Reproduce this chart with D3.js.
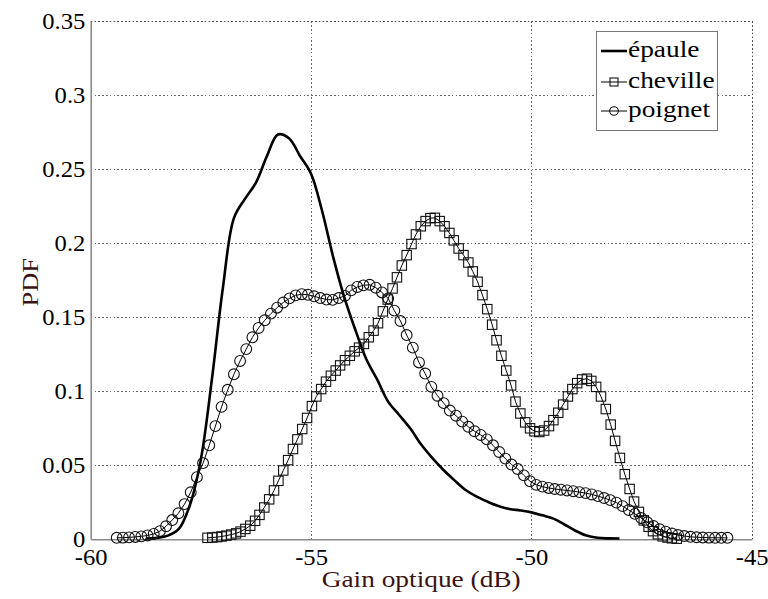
<!DOCTYPE html>
<html><head><meta charset="utf-8">
<script src="https://cdn.jsdelivr.net/npm/d3@7/dist/d3.min.js"></script>
<style>
body{margin:0;background:#fff;}
svg{display:block;}
text{font-family:"Liberation Serif","Times New Roman",serif;}
</style></head>
<body><svg id="chart" width="768" height="599"></svg>
<script>
// ---------- data ----------
const xTicks = [-60, -55, -50, -45];
const xTickLabels = ["-60", "-55", "-50", "-45"];
const yTicks = [0, 0.05, 0.1, 0.15, 0.2, 0.25, 0.3, 0.35];
const yTickLabels = ["0", "0.05", "0.1", "0.15", "0.2", "0.25", "0.3", "0.35"];
const seriesNames = ["épaule", "cheville", "poignet"];
const xLabel = "Gain optique (dB)";
const yLabel = "PDF";

const epauleX = [-58.75,-58.5,-58.25,-58,-57.75,-57.5,-57.25,-57,-56.75,-56.5,-56.25,-56,-55.75,-55.5,-55.25,-55,-54.75,-54.5,-54.25,-54,-53.75,-53.5,-53.25,-53,-52.75,-52.5,-52.25,-52,-51.75,-51.5,-51.25,-51,-50.75,-50.5,-50.25,-50,-49.75,-49.5,-49.25,-49,-48.75,-48.5,-48.25,-48];
const epauleY = [0.0005,0.001,0.0025,0.007,0.023,0.054,0.108,0.17,0.217,0.23,0.241,0.259,0.2735,0.271,0.259,0.247,0.222,0.191,0.164,0.142,0.122,0.108,0.093,0.084,0.075,0.064,0.055,0.047,0.040,0.0335,0.029,0.0255,0.0225,0.0205,0.0195,0.0182,0.0162,0.014,0.010,0.0058,0.0025,0.001,0.0006,0.0005];

const chevilleX = [-57.35,-57.24,-57.13,-57.03,-56.92,-56.81,-56.70,-56.60,-56.49,-56.38,-56.27,-56.17,-56.06,-55.95,-55.84,-55.74,-55.63,-55.52,-55.41,-55.31,-55.20,-55.09,-54.98,-54.88,-54.77,-54.66,-54.55,-54.44,-54.34,-54.23,-54.12,-54.01,-53.91,-53.80,-53.69,-53.58,-53.48,-53.37,-53.26,-53.15,-53.05,-52.94,-52.83,-52.72,-52.62,-52.51,-52.40,-52.29,-52.19,-52.08,-51.97,-51.86,-51.76,-51.65,-51.54,-51.43,-51.33,-51.22,-51.11,-51.00,-50.89,-50.79,-50.68,-50.57,-50.46,-50.36,-50.25,-50.14,-50.03,-49.93,-49.82,-49.71,-49.60,-49.50,-49.39,-49.28,-49.17,-49.07,-48.96,-48.85,-48.74,-48.64,-48.53,-48.42,-48.31,-48.20,-48.10,-47.99,-47.88,-47.77,-47.67,-47.56,-47.45,-47.34,-47.24,-47.13,-47.02,-46.91,-46.81,-46.70];
const chevilleY = [0.0010,0.0012,0.0015,0.0019,0.0025,0.0032,0.0040,0.0052,0.0070,0.0092,0.0125,0.0165,0.0215,0.0270,0.0330,0.0395,0.0465,0.0535,0.0610,0.0675,0.0745,0.0820,0.0900,0.0965,0.1015,0.1065,0.1105,0.1140,0.1175,0.1210,0.1240,0.1270,0.1295,0.1320,0.1365,0.1410,0.1460,0.1540,0.1620,0.1695,0.1770,0.1850,0.1920,0.1995,0.2060,0.2115,0.2150,0.2170,0.2172,0.2150,0.2115,0.2070,0.2020,0.1965,0.1920,0.1870,0.1810,0.1740,0.1650,0.1555,0.1450,0.1345,0.1240,0.1140,0.1040,0.0930,0.0850,0.0790,0.0750,0.0730,0.0725,0.0735,0.0765,0.0805,0.0855,0.0910,0.0965,0.1015,0.1055,0.1080,0.1085,0.1070,0.1030,0.0965,0.0880,0.0775,0.0665,0.0550,0.0440,0.0340,0.0255,0.0185,0.0128,0.0085,0.0055,0.0034,0.0020,0.0012,0.0007,0.0004];

const poignetX = [-59.41,-59.27,-59.13,-58.99,-58.85,-58.71,-58.57,-58.43,-58.29,-58.15,-58.01,-57.87,-57.73,-57.59,-57.45,-57.31,-57.17,-57.03,-56.89,-56.75,-56.61,-56.47,-56.33,-56.19,-56.05,-55.91,-55.77,-55.63,-55.49,-55.35,-55.21,-55.07,-54.93,-54.79,-54.65,-54.51,-54.37,-54.23,-54.09,-53.95,-53.81,-53.67,-53.53,-53.39,-53.25,-53.11,-52.97,-52.83,-52.69,-52.55,-52.41,-52.27,-52.13,-51.99,-51.85,-51.71,-51.57,-51.43,-51.29,-51.15,-51.01,-50.87,-50.73,-50.59,-50.45,-50.31,-50.17,-50.03,-49.89,-49.75,-49.61,-49.47,-49.33,-49.19,-49.05,-48.91,-48.77,-48.63,-48.49,-48.35,-48.21,-48.07,-47.93,-47.79,-47.65,-47.51,-47.37,-47.23,-47.09,-46.95,-46.81,-46.67,-46.53,-46.39,-46.25,-46.11,-45.97,-45.83,-45.69,-45.55];
const poignetY = [0.0010,0.0011,0.0013,0.0016,0.0020,0.0026,0.0036,0.0055,0.0088,0.0130,0.0176,0.0238,0.0318,0.0420,0.0515,0.0635,0.0765,0.0895,0.1010,0.1115,0.1205,0.1285,0.1365,0.1428,0.1480,0.1525,0.1565,0.1600,0.1628,0.1648,0.1656,0.1652,0.1642,0.1630,0.1620,0.1618,0.1630,0.1645,0.1682,0.1705,0.1716,0.1720,0.1700,0.1668,0.1628,0.1545,0.1475,0.1380,0.1295,0.1195,0.1120,0.1030,0.0970,0.0920,0.0870,0.0835,0.0795,0.0760,0.0730,0.0705,0.0675,0.0635,0.0590,0.0545,0.0505,0.0475,0.0432,0.0392,0.0368,0.0356,0.0347,0.0340,0.0335,0.0330,0.0325,0.0319,0.0312,0.0303,0.0292,0.0279,0.0265,0.0248,0.0224,0.0198,0.0172,0.0144,0.0115,0.0090,0.0068,0.0052,0.0039,0.0029,0.0022,0.0017,0.0014,0.0012,0.0011,0.0010,0.0010,0.0010];

// ---------- layout ----------
const L = 90.7, R = 751.7, T = 21.3, B = 539.3;
const FS = 23;
const svg = d3.select("#chart");
const x = d3.scaleLinear().domain([-60, -45]).range([L, R]);
const y = d3.scaleLinear().domain([0, 0.35]).range([B, T]);

// grid
const grid = svg.append("g").attr("stroke", "#444").attr("stroke-width", 0.8).attr("stroke-dasharray", "1.6,2.2").attr("shape-rendering","crispEdges");
grid.selectAll("line.gx").data(xTicks.slice(1)).join("line")
  .attr("x1", d => Math.round(x(d)) + 0.5).attr("x2", d => Math.round(x(d)) + 0.5)
  .attr("y1", T).attr("y2", B);
grid.selectAll("line.gy").data(yTicks.slice(1)).join("line")
  .attr("y1", d => Math.round(y(d)) + 0.5).attr("y2", d => Math.round(y(d)) + 0.5)
  .attr("x1", L).attr("x2", R);

// axes (solid left & bottom)
const yAxis = svg.append("g").attr("transform", `translate(${L},0)`)
  .call(d3.axisLeft(y).tickValues(yTicks).tickFormat((d, i) => yTickLabels[i]).tickSize(0).tickPadding(5));
const xAxis = svg.append("g").attr("transform", `translate(0,${B})`)
  .call(d3.axisBottom(x).tickValues(xTicks).tickFormat((d, i) => xTickLabels[i]).tickSize(0).tickPadding(9));
[xAxis, yAxis].forEach(a => {
  a.select(".domain").attr("stroke", "#8a8a8a").attr("stroke-width", 1.6);
  a.selectAll("text").attr("font-size", FS).attr("fill", "#000")
    .attr("font-family", "'Liberation Serif','Times New Roman',serif")
    .attr("transform", "scale(1.07,1)");
});

// series
const pts = (xs, ys) => xs.map((v, i) => [v, ys[i]]);
const line = d3.line().x(d => x(d[0])).y(d => y(d[1])).curve(d3.curveCatmullRom);
const lineStraight = d3.line().x(d => x(d[0])).y(d => y(d[1]));

svg.append("path").datum(pts(epauleX, epauleY))
  .attr("fill", "none").attr("stroke", "#000").attr("stroke-width", 2.6).attr("d", line);

const cData = pts(chevilleX, chevilleY);
svg.append("path").datum(cData).attr("fill", "none").attr("stroke", "#000").attr("stroke-width", 1).attr("d", lineStraight);
const sq = 9.4;
svg.append("g").selectAll("rect").data(cData).join("rect")
  .attr("x", d => x(d[0]) - sq / 2).attr("y", d => y(d[1]) - sq / 2)
  .attr("width", sq).attr("height", sq)
  .attr("fill", "none").attr("stroke", "#111").attr("stroke-width", 1.1);

const pData = pts(poignetX, poignetY);
svg.append("path").datum(pData).attr("fill", "none").attr("stroke", "#000").attr("stroke-width", 1).attr("d", lineStraight);
svg.append("g").selectAll("circle").data(pData).join("circle")
  .attr("cx", d => x(d[0])).attr("cy", d => y(d[1])).attr("r", 5.4)
  .attr("fill", "none").attr("stroke", "#111").attr("stroke-width", 1.1);

// top/right dotted box edges
const edge = svg.append("g").attr("stroke", "#444").attr("stroke-width", 0.8).attr("stroke-dasharray", "1.6,2.2");
edge.append("line").attr("x1", L).attr("x2", R).attr("y1", Math.round(T) + 0.5).attr("y2", Math.round(T) + 0.5);
edge.append("line").attr("x1", Math.round(R) + 0.5).attr("x2", Math.round(R) + 0.5).attr("y1", T).attr("y2", B);

// axis labels (glyphs are horizontally stretched in the reference)
svg.append("text").attr("transform", `translate(${(L + R) / 2},587) scale(1.19,1)`).attr("text-anchor", "middle")
  .attr("font-size", FS).attr("fill", "#3a1414").text(xLabel);
svg.append("text").attr("transform", `translate(38,${(T + B) / 2 + 2}) rotate(-90) scale(1.15,1)`).attr("text-anchor", "middle")
  .attr("font-size", FS).attr("fill", "#3a1414").text(yLabel);

// legend
const lg = svg.append("g");
lg.append("rect").attr("x", 596.5).attr("y", 31.5).attr("width", 121).attr("height", 99)
  .attr("fill", "#fff").attr("stroke", "#777").attr("stroke-width", 1);
const rows = [51, 82, 111];
seriesNames.forEach((name, i) => {
  const ry = rows[i];
  lg.append("line").attr("x1", 601).attr("x2", 627).attr("y1", ry).attr("y2", ry)
    .attr("stroke", "#000").attr("stroke-width", i === 0 ? 2.6 : 1);
  if (i === 1) lg.append("rect").attr("x", 610).attr("y", ry - 4).attr("width", 8).attr("height", 8)
    .attr("fill", "none").attr("stroke", "#111").attr("stroke-width", 1.1);
  if (i === 2) lg.append("circle").attr("cx", 614).attr("cy", ry).attr("r", 4.3)
    .attr("fill", "none").attr("stroke", "#111").attr("stroke-width", 1.1);
  lg.append("text").attr("transform", `translate(628,${ry + 6}) scale(1.19,1)`)
    .attr("font-size", FS).attr("fill", "#000").text(name);
});
</script></body></html>
